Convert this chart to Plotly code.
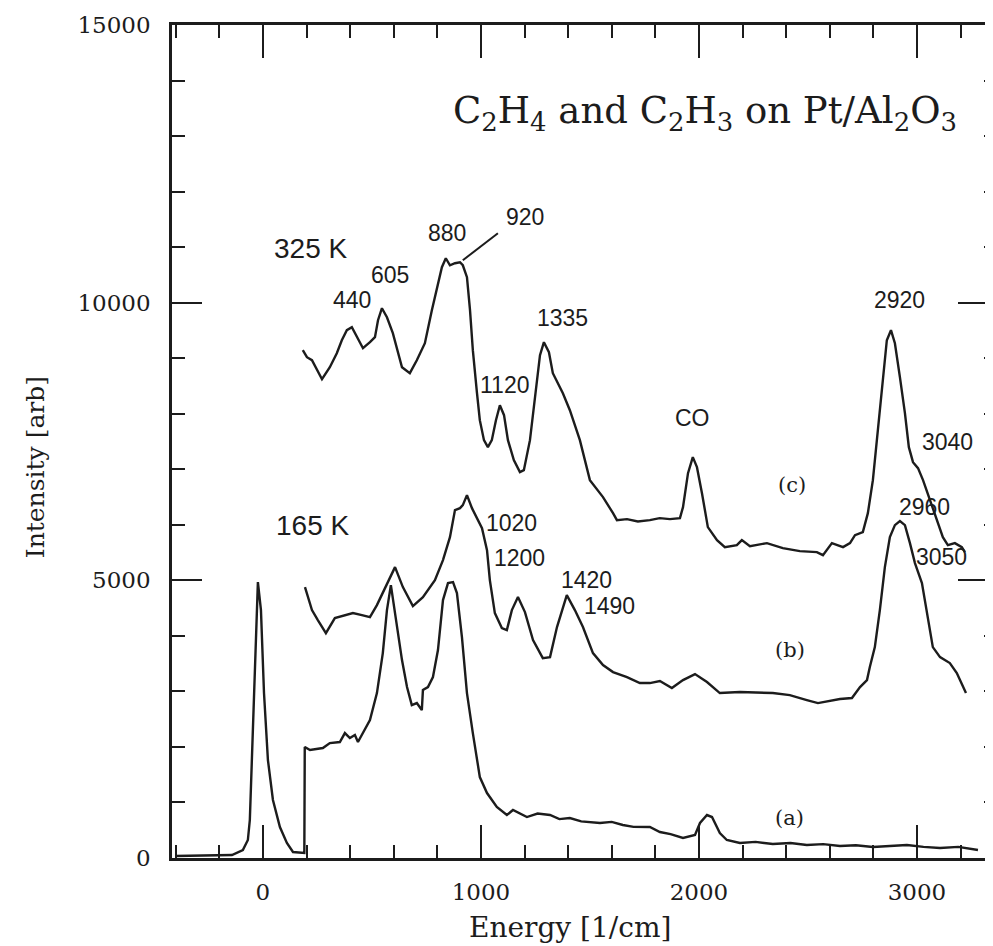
import plotly.graph_objects as go

# ---- data ----
a_x = [-403, -211, -142, -92, -69, -60, -46, -32, -23, -9, 5, 23, 46, 78, 110, 138, 183, 190,
       192, 216, 275, 307, 353, 376, 399, 422, 436, 459, 491, 523, 550, 569, 587, 606, 638, 661,
       683, 706, 729, 734, 757, 780, 803, 826, 849, 872, 890, 913, 936, 963, 995, 1028, 1073,
       1119, 1147, 1211, 1260, 1317, 1360, 1408, 1460, 1546, 1600, 1651, 1700, 1775, 1821, 1870,
       1927, 1982, 2005, 2037, 2060, 2096, 2128, 2188, 2260, 2339, 2420, 2495, 2570, 2647, 2720,
       2798, 2880, 2954, 3030, 3106, 3190, 3280]
a_y = [36, 54, 54, 144, 324, 684, 2358, 4158, 4968, 4464, 2970, 1764, 1044, 558, 270, 108, 90, 90,
       2000, 1944, 1980, 2070, 2088, 2250, 2160, 2214, 2088, 2250, 2484, 2970, 3690, 4464, 4914,
       4410, 3564, 3078, 2754, 2790, 2664, 3024, 3078, 3258, 3744, 4644, 4950, 4968, 4770, 3978,
       2970, 2250, 1458, 1170, 918, 774, 864, 738, 800, 774, 700, 720, 660, 630, 650, 594, 560,
       558, 468, 430, 360, 414, 630, 774, 738, 450, 324, 270, 290, 252, 270, 234, 250, 216, 230,
       198, 220, 234, 200, 180, 200, 144]

b_x = [193, 225, 252, 289, 330, 385, 413, 454, 491, 523, 569, 606, 642, 688, 734, 789, 826, 858,
       881, 904, 917, 936, 959, 982, 1005, 1028, 1041, 1064, 1096, 1119, 1142, 1170, 1202, 1239,
       1284, 1317, 1349, 1394, 1431, 1468, 1514, 1560, 1606, 1670, 1729, 1775, 1821, 1876, 1927,
       1982, 2037, 2096, 2188, 2339, 2417, 2495, 2546, 2647, 2702, 2739, 2771, 2784, 2807, 2830,
       2853, 2876, 2899, 2922, 2945, 2968, 2991, 3023, 3050, 3073, 3106, 3151, 3183, 3206, 3225]
b_y = [4878, 4464, 4284, 4050, 4320, 4374, 4410, 4374, 4338, 4554, 4950, 5238, 4878, 4536, 4698,
       5004, 5364, 5778, 6264, 6300, 6354, 6534, 6300, 6120, 5940, 5544, 5004, 4410, 4140, 4104,
       4464, 4698, 4428, 3924, 3600, 3618, 4158, 4734, 4464, 4158, 3690, 3474, 3348, 3258, 3150,
       3150, 3186, 3060, 3204, 3312, 3168, 2970, 2988, 2970, 2934, 2844, 2790, 2862, 2880, 3078,
       3204, 3438, 3798, 4464, 5238, 5778, 5994, 6066, 5994, 5670, 5310, 4950, 4338, 3798, 3618,
       3510, 3330, 3114, 2970]

c_x = [183, 202, 225, 248, 271, 307, 339, 362, 385, 408, 431, 459, 491, 514, 528, 546, 569, 596,
       638, 674, 706, 743, 775, 798, 821, 839, 858, 881, 904, 917, 936, 950, 963, 982, 995, 1014,
       1032, 1050, 1069, 1087, 1106, 1124, 1151, 1179, 1197, 1225, 1252, 1271, 1289, 1312, 1330,
       1376, 1408, 1454, 1500, 1560, 1606, 1624, 1670, 1720, 1775, 1820, 1867, 1913, 1927, 1950,
       1972, 1991, 2014, 2041, 2083, 2119, 2174, 2197, 2234, 2312, 2385, 2463, 2541, 2569, 2610,
       2661, 2693, 2716, 2752, 2775, 2798, 2821, 2844, 2862, 2881, 2899, 2922, 2945, 2963, 2982,
       3005, 3028, 3060, 3092, 3119, 3142, 3174, 3206, 3220]
c_y = [9144, 9018, 8964, 8784, 8622, 8838, 9090, 9324, 9504, 9558, 9378, 9180, 9288, 9378, 9684,
       9900, 9738, 9450, 8838, 8730, 8964, 9270, 9864, 10278, 10638, 10800, 10674, 10710, 10728,
       10674, 10458, 9864, 9144, 8370, 7884, 7524, 7398, 7524, 7884, 8154, 7974, 7524, 7164, 6948,
       6984, 7524, 8424, 9054, 9288, 9108, 8730, 8370, 8064, 7524, 6804, 6498, 6210, 6084, 6102,
       6060, 6084, 6120, 6102, 6120, 6318, 6930, 7218, 7038, 6570, 5958, 5724, 5598, 5634, 5724,
       5616, 5670, 5580, 5526, 5508, 5454, 5670, 5598, 5670, 5814, 5868, 6210, 6804, 7704, 8730,
       9324, 9504, 9270, 8658, 8010, 7398, 7128, 7020, 6804, 6444, 6084, 5778, 5634, 5670, 5598,
       5508]

# peak / curve labels: text, x, y (data units)
lbl_text = ["325 K", "440", "605", "880", "920", "1335", "1120", "CO", "2920", "3040",
            "2960", "3050", "165 K", "1020", "1200", "1420", "1490"]
lbl_x = [220, 408, 583, 844, 1202, 1372, 1110, 1972, 2922, 3142, 3037, 3115, 229, 1142, 1179,
         1486, 1592]
lbl_y = [10980, 10044, 10494, 11250, 11538, 9720, 8514, 7920, 10044, 7488, 6318, 5418, 5994,
         6030, 5400, 5004, 4536]
curve_text = ["(c)", "(b)", "(a)"]
curve_x = [2427, 2417, 2417]
curve_y = [6714, 3744, 720]
leader_x = [917, 1078]
leader_y = [10764, 11250]

title_text = "C<sub>2</sub>H<sub>4</sub> and C<sub>2</sub>H<sub>3</sub> on Pt/Al<sub>2</sub>O<sub>3</sub>"
x_range = [-417, 3349]
y_range = [0, 15000]

INK = "#1c1c1c"
LINE = dict(color=INK, width=2.4)

fig = go.Figure()
for xs, ys in [(a_x, a_y), (b_x, b_y), (c_x, c_y)]:
    fig.add_trace(go.Scatter(x=xs, y=ys, mode="lines", line=LINE, showlegend=False,
                             hoverinfo="skip"))
# empty trace to activate the right-side tick axis
fig.add_trace(go.Scatter(x=[], y=[], yaxis="y2", showlegend=False))

for t, x, y in zip(lbl_text, lbl_x, lbl_y):
    big = t.endswith("K")
    fig.add_annotation(x=x, y=y, text=t, showarrow=False, xanchor="center", yanchor="middle",
                       font=dict(family="Liberation Sans", size=28 if big else 23, color=INK))
for t, x, y in zip(curve_text, curve_x, curve_y):
    fig.add_annotation(x=x, y=y, text=t, showarrow=False, xanchor="center", yanchor="middle",
                       font=dict(family="DejaVu Serif", size=21, color=INK))
fig.add_annotation(x=2028, y=13410, text=title_text, showarrow=False, xanchor="center",
                   yanchor="middle", font=dict(family="DejaVu Serif", size=37, color=INK))
fig.add_shape(type="line", x0=leader_x[0], y0=leader_y[0], x1=leader_x[1], y1=leader_y[1],
              line=dict(color=INK, width=2))

# axis titles as annotations for exact placement
fig.add_annotation(xref="paper", yref="paper", x=0.485, y=-0.084, text="Energy [1/cm]",
                   xanchor="center", yanchor="middle", showarrow=False,
                   font=dict(family="DejaVu Serif", size=28, color=INK))
fig.add_annotation(xref="paper", yref="paper", x=-0.167, y=0.469, text="Intensity [arb]",
                   xanchor="center", yanchor="middle", textangle=-90, showarrow=False,
                   font=dict(family="DejaVu Serif", size=25, color=INK))

tickfont = dict(family="DejaVu Serif", size=23, color=INK)
fig.update_layout(
    width=985, height=938,
    margin=dict(l=164, r=0, t=17, b=88),
    paper_bgcolor="white", plot_bgcolor="white",
    xaxis=dict(range=x_range, showgrid=False, zeroline=False, showline=True, linecolor=INK,
               linewidth=2.5, mirror="ticks", ticks="inside", ticklen=33, tickwidth=2,
               tickcolor=INK, tick0=0, dtick=1000, tickformat="d", tickfont=tickfont,
               ticklabelstandoff=12,
               minor=dict(ticks="inside", dtick=200, tick0=0, ticklen=13, tickwidth=2,
                          tickcolor=INK, showgrid=False)),
    yaxis=dict(range=y_range, showgrid=False, zeroline=False, showline=True, linecolor=INK,
               linewidth=2.5, ticks="inside", ticklen=30, tickwidth=2, tickcolor=INK,
               tick0=0, dtick=5000, tickformat="d", tickfont=tickfont, ticklabelstandoff=14,
               minor=dict(ticks="inside", dtick=1000, tick0=0, ticklen=13, tickwidth=2,
                          tickcolor=INK, showgrid=False)),
    yaxis2=dict(range=y_range, overlaying="y", side="right", showgrid=False, zeroline=False,
                showline=False, ticks="inside", ticklen=35, tickwidth=2, tickcolor=INK,
                tick0=0, dtick=5000, showticklabels=False,
                minor=dict(ticks="inside", dtick=1000, tick0=0, ticklen=9, tickwidth=2,
                           tickcolor=INK, showgrid=False)),
)

fig.write_html("out.html")
